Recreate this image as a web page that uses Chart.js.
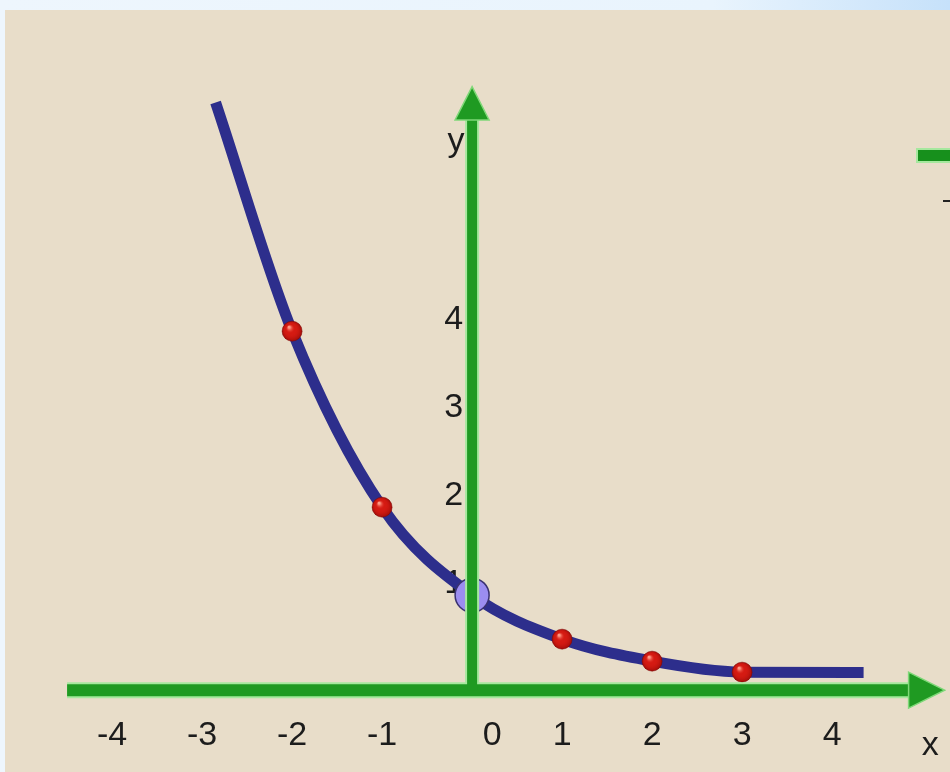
<!DOCTYPE html>
<html>
<head>
<meta charset="utf-8">
<script src="https://cdn.jsdelivr.net/npm/chart.js@4"></script>
<style>
  html, body { margin: 0; padding: 0; }
  body {
    width: 950px;
    height: 772px;
    overflow: hidden;
    position: relative;
    background: linear-gradient(to right, #eef6fd 0%, #e9f4fd 75%, #c6e1fa 100%);
  }
  #wrap {
    position: absolute;
    left: 5px;
    top: 10px;
    width: 945px;
    height: 762px;
    background: #e8ddc9;
  }
</style>
</head>
<body>
<div id="wrap"><canvas id="graph" width="945" height="762"></canvas></div>
<script>
// y = (1/2)^x, marked points
const pointX = [-2, -1, 1, 2, 3];
const pointY = [4, 2, 0.5, 0.25, 0.125];
const crossX = [0];
const crossY = [1];
const curveX = [-2.85, -2, -1, 0, 1, 2, 3, 4.35];
const curveY = [6.6, 4, 2, 1, 0.5, 0.25, 0.125, 0.12];
const xTicks = [-4, -3, -2, -1, 0, 1, 2, 3, 4];
const yTicks = [1, 2, 3, 4];

const labelFont = "34px 'Liberation Sans', Arial, sans-serif";

function toPoints(xs, ys) {
  return xs.map((v, i) => ({ x: v, y: ys[i] }));
}

function arrowHead(ctx, tipX, tipY, baseX1, baseY1, baseX2, baseY2) {
  ctx.beginPath();
  ctx.moveTo(tipX, tipY);
  ctx.lineTo(baseX1, baseY1);
  ctx.lineTo(baseX2, baseY2);
  ctx.closePath();
  ctx.fill();
  ctx.stroke();
}

// shiny red balls: shading on top of the points the chart placed
const ballShine = {
  id: "ballShine",
  afterDatasetDraw(chart, args) {
    if (args.meta.label !== "points") {
      return;
    }
    const ctx = chart.ctx;
    ctx.save();
    for (const el of args.meta.data) {
      const g = ctx.createRadialGradient(el.x - 3, el.y - 4, 1, el.x, el.y, 10);
      g.addColorStop(0, "rgba(255,160,140,0.95)");
      g.addColorStop(0.4, "rgba(225,30,20,0)");
      g.addColorStop(1, "rgba(110,0,0,0.5)");
      ctx.fillStyle = g;
      ctx.beginPath();
      ctx.arc(el.x, el.y, 10, 0, Math.PI * 2);
      ctx.fill();
    }
    ctx.restore();
  },
};

const axesPlugin = {
  id: "axes",
  beforeDatasetsDraw(chart) {
    const { ctx, scales: { x, y } } = chart;
    const zeroX = x.getPixelForValue(0);
    const zeroY = y.getPixelForValue(0);
    ctx.save();
    ctx.fillStyle = "#1c1c1c";
    ctx.font = labelFont;
    ctx.textAlign = "center";
    ctx.textBaseline = "middle";
    for (const t of xTicks) {
      ctx.fillText(`${t}`, x.getPixelForValue(t) + (t === 0 ? 20 : 0), zeroY + 52);
    }
    ctx.fillText("x", x.getPixelForValue(5.09), zeroY + 62);
    ctx.fillText("y", zeroX - 16, y.getPixelForValue(6.15));
    ctx.textAlign = "right";
    for (const t of yTicks) {
      ctx.fillText(`${t}`, zeroX - 9, y.getPixelForValue(t) - 12);
    }
    ctx.restore();
  },
  afterDatasetsDraw(chart) {
    const { ctx, scales: { x, y } } = chart;
    const zeroX = x.getPixelForValue(0);
    const axisY = y.getPixelForValue(0) + 7;
    const left = x.getPixelForValue(-4.5);
    const xBase = x.getPixelForValue(4.85);
    const xTip = x.getPixelForValue(5.25);
    const yBase = y.getPixelForValue(6.4);
    const yTip = y.getPixelForValue(6.78);

    ctx.save();
    // light rim first, then the green axis
    ctx.strokeStyle = "#a6e89e";
    ctx.lineWidth = 16;
    ctx.beginPath();
    ctx.moveTo(left, axisY);
    ctx.lineTo(xBase, axisY);
    ctx.stroke();
    ctx.lineWidth = 14;
    ctx.beginPath();
    ctx.moveTo(zeroX, axisY);
    ctx.lineTo(zeroX, yBase);
    ctx.stroke();

    ctx.strokeStyle = "#1f9a22";
    ctx.lineWidth = 12;
    ctx.beginPath();
    ctx.moveTo(left, axisY);
    ctx.lineTo(xBase + 2, axisY);
    ctx.stroke();
    ctx.lineWidth = 10;
    ctx.beginPath();
    ctx.moveTo(zeroX, axisY);
    ctx.lineTo(zeroX, yBase - 2);
    ctx.stroke();

    ctx.fillStyle = "#1f9a22";
    ctx.strokeStyle = "#7fd878";
    ctx.lineWidth = 1.5;
    arrowHead(ctx, xTip, axisY, xBase, axisY - 18, xBase, axisY + 18);
    arrowHead(ctx, zeroX, yTip, zeroX - 17, yBase, zeroX + 17, yBase);

    // cut-off bits of the slide at the right edge
    ctx.fillStyle = "#a6e89e";
    ctx.fillRect(chart.width - 34, 138, 34, 15);
    ctx.fillStyle = "#17901c";
    ctx.fillRect(chart.width - 32, 140, 32, 11);
    ctx.fillStyle = "#222";
    ctx.fillRect(chart.width - 7, 190, 7, 2);
    ctx.restore();
  },
};

new Chart(document.getElementById("graph"), {
  type: "scatter",
  data: {
    datasets: [
      {
        label: "points",
        data: toPoints(pointX, pointY),
        pointRadius: 10,
        pointBackgroundColor: "#d41a12",
        pointBorderColor: "#7a0808",
        pointBorderWidth: 0.5,
        order: 1,
      },
      {
        label: "cross",
        data: toPoints(crossX, crossY),
        pointRadius: 17,
        pointBackgroundColor: "#9b8df0",
        pointBorderColor: "#3a3270",
        pointBorderWidth: 1.5,
        order: 2,
      },
      {
        label: "curve",
        data: toPoints(curveX, curveY),
        showLine: true,
        pointRadius: 0,
        borderColor: "#2d2e8c",
        borderWidth: 11,
        borderCapStyle: "butt",
        cubicInterpolationMode: "monotone",
        order: 3,
      },
    ],
  },
  options: {
    responsive: false,
    animation: false,
    events: [],
    layout: { padding: 0, autoPadding: false },
    plugins: {
      legend: { display: false },
      tooltip: { enabled: false },
    },
    scales: {
      x: { type: "linear", min: -5.19, max: 5.31, display: false },
      y: { type: "linear", min: -1.01, max: 7.65, display: false },
    },
  },
  plugins: [axesPlugin, ballShine],
});
</script>
</body>
</html>
